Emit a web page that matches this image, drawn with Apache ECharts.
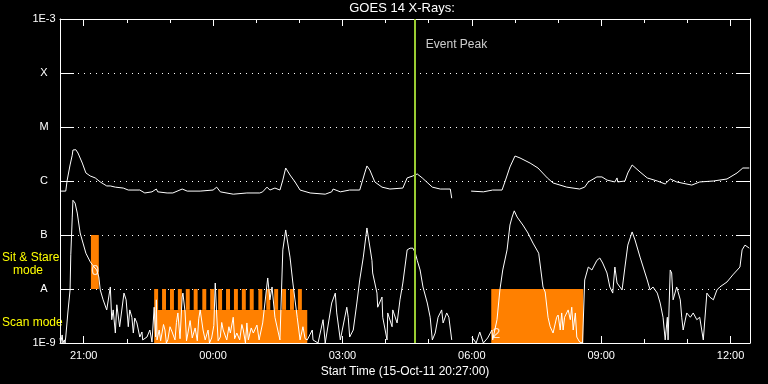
<!DOCTYPE html>
<html>
<head>
<meta charset="utf-8">
<script src="https://cdn.jsdelivr.net/npm/echarts@6/dist/echarts.min.js"></script>
<style>html,body{margin:0;padding:0;background:#000;}#c{width:768px;height:384px;}</style>
</head>
<body>
<div id="c"></div>
<script>
// time in minutes after start (15-Oct-11 20:27:00), flux in W/m^2
const majorTickMinutes = [33, 213, 393, 573, 753, 933];
const majorTickLabels = ['21:00', '00:00', '03:00', '06:00', '09:00', '12:00'];
const minorTickMinutes = [93, 153, 273, 333, 453, 513, 633, 693, 813, 873];
const levelLabels = {'-3': '1E-3', '-4': 'X', '-5': 'M', '-6': 'C', '-7': 'B', '-8': 'A', '-9': '1E-9'};
const eventPeakMinute = 493;

const longChannel = [
[0,6.5e-7],[8,6.5e-7],[10,1.04e-6],[14,1.98e-6],[17,3.0e-6],[18,3.75e-6],[22,3.8e-6],[25,3.3e-6],[31,2.15e-6],[36,1.41e-6],[42,1.24e-6],[49,1.14e-6],[56,9.6e-7],[65,8.1e-7],[70,8.1e-7],[72,8.8e-7],[77,7.7e-7],[88,7.4e-7],[95,6.8e-7],[111,6.8e-7],[118,6.0e-7],[128,6.3e-7],[134,7.1e-7],[136,6.3e-7],[149,6.0e-7],[157,6.0e-7],[170,7.1e-7],[177,6.5e-7],[195,6.5e-7],[213,6.8e-7],[218,7.7e-7],[223,6.3e-7],[241,5.7e-7],[260,6.0e-7],[278,6.0e-7],[282,6.3e-7],[288,7.7e-7],[292,6.8e-7],[299,7.4e-7],[306,6.8e-7],[310,1.04e-6],[314,1.74e-6],[320,1.29e-6],[327,9.6e-7],[334,6.8e-7],[348,6.0e-7],[369,5.7e-7],[378,6.3e-7],[380,7.1e-7],[390,6.3e-7],[403,6.8e-7],[417,6.8e-7],[424,1.41e-6],[427,1.9e-6],[431,1.6e-6],[438,9.6e-7],[448,7.7e-7],[459,7.1e-7],[477,7.4e-7],[483,1.14e-6],[491,1.24e-6],[497,1.35e-6],[504,1.14e-6],[518,7.7e-7],[529,7.1e-7],[543,7.1e-7],[545,4.8e-7],[558,null],
[572,6.5e-7],[589,6.3e-7],[602,6.8e-7],[615,6.8e-7],[619,9.6e-7],[626,1.82e-6],[633,2.9e-6],[640,2.67e-6],[654,2.15e-6],[665,1.74e-6],[678,1.14e-6],[686,9.2e-7],[705,7.7e-7],[723,7.1e-7],[730,7.7e-7],[735,9.6e-7],[747,1.19e-6],[754,1.19e-6],[761,1.04e-6],[772,9.6e-7],[775,1.14e-6],[776,9.6e-7],[786,1.0e-6],[790,1.41e-6],[796,1.98e-6],[807,1.47e-6],[817,1.14e-6],[831,1.0e-6],[842,8.8e-7],[849,1.09e-6],[858,9.6e-7],[879,8.4e-7],[890,9.6e-7],[909,1.0e-6],[928,1.09e-6],[942,1.41e-6],[950,1.74e-6],[959,1.74e-6]
];

const shortChannel = [
[0,1.24e-9],[1,1e-9],[3,1.41e-9],[4,1e-9],[6,1.14e-9],[7,1e-9],[8,1.29e-9],[11,3.75e-9],[14,9.6e-9],[15,4.3e-8],[17,2.07e-7],[18,4.4e-7],[21,3.9e-7],[24,2.55e-7],[28,1.09e-7],[32,7.1e-8],[36,4.6e-8],[42,3.2e-8],[46,2.7e-8],[51,2.25e-8],[54,1.67e-8],[56,9.6e-9],[60,6.3e-9],[65,4.1e-9],[70,1.09e-8],[72,2.7e-9],[74,4.1e-9],[77,1.53e-9],[79,5.1e-9],[83,2.0e-9],[89,8.4e-9],[92,6.3e-9],[95,2.0e-9],[97,4.1e-9],[100,3.0e-9],[102,1.53e-9],[104,2.9e-9],[107,2.35e-9],[111,1.29e-9],[114,1.6e-9],[115,1.14e-9],[121,1.29e-9],[125,1.74e-9],[128,1.04e-9],
[131,4.6e-9],[133,1.3e-9],[134,6.3e-9],[135,1.14e-9],[138,1.74e-9],[140,1.1e-9],[142,1.14e-9],[144,2.2e-9],[146,1.74e-9],[148,1.0e-9],[150,1.14e-9],[153,2.0e-9],[156,1.6e-9],[160,1.14e-9],[162,2.4e-9],[164,3.6e-9],[167,1.2e-9],[170,7.1e-9],[171,8.4e-9],[174,3.75e-9],[176,1.1e-9],[178,1.53e-9],[181,2.6e-9],[184,1.24e-9],[188,1.9e-9],[191,1.1e-9],[193,2.8e-9],[195,4.1e-9],[199,1.74e-9],[202,1.14e-9],[206,1.74e-9],[208,1.0e-9],[211,1.24e-9],[214,2.1e-9],[216,1.29e-8],[218,3.3e-9],[220,1.1e-9],[223,1.29e-9],[225,2.4e-9],[227,1.74e-9],[232,1.14e-9],[235,2.0e-9],[237,1.53e-9],[241,3.0e-9],[243,1.2e-9],[246,1.53e-9],[250,1.14e-9],[253,2.2e-9],[255,1.74e-9],[258,1.0e-9],[260,2.35e-9],[262,1.14e-9],[266,1.9e-9],[269,1.53e-9],[274,2.15e-9],[277,1.14e-9],[282,2.35e-9],[289,1.6e-8],[292,6.3e-9],[295,1.09e-8],[299,3.0e-9],[306,1.14e-9],[310,5.3e-8],[314,1.24e-7],[320,3.9e-8],[324,1.29e-8],[330,3.0e-9],[334,1.14e-9],[338,2.0e-9],[341,1.2e-9],[344,1.14e-9],[351,1.74e-9],[352,1.14e-9],[359,1.0e-9],[366,2.7e-9],[369,1.0e-9],[378,5.5e-9],[383,8.4e-9],[385,3.6e-9],[390,1.14e-9],[399,4.6e-9],[401,3.0e-9],[403,1.29e-9],[408,1.74e-9],[413,5.5e-9],[417,1.47e-8],[422,3.9e-8],[427,1.35e-7],[434,3.4e-8],[435,1.98e-8],[441,8.4e-9],[442,4.6e-9],[448,7.1e-9],[449,3.0e-9],[455,1.14e-9],[456,3.6e-9],[462,2.0e-9],[463,4.1e-9],[469,2.35e-9],[473,6.3e-9],[477,1.29e-8],[483,5.3e-8],[487,5.7e-8],[491,5.7e-8],[494,4.8e-8],[497,3.4e-8],[501,2.25e-8],[505,1.09e-8],[511,5.5e-9],[515,3.0e-9],[518,1.14e-9],[522,1.53e-9],[526,3.0e-9],[531,4.1e-9],[533,2.35e-9],[538,3.6e-9],[541,3.0e-9],[545,1.14e-9],[558,null],
[573,1.29e-9],[579,1e-9],[584,1.6e-9],[589,1e-9],[595,1.24e-9],[601,1.74e-9],[602,1.14e-9],[608,2.7e-9],[612,9.6e-9],[616,2.25e-8],[622,5.3e-8],[626,1.53e-7],[629,2.15e-7],[632,2.8e-7],[636,2.15e-7],[644,1.53e-7],[651,1.09e-7],[658,7.1e-8],[666,4.6e-8],[672,1.09e-8],[675,8.8e-9],[679,3.0e-9],[682,2.0e-9],[686,1.53e-9],[691,3.0e-9],[693,3.3e-9],[696,1.74e-9],[698,3.6e-9],[700,1.74e-9],[702,3.0e-9],[707,4.1e-9],[710,2.7e-9],[712,4.6e-9],[714,1.74e-9],[717,3.6e-9],[719,1.29e-9],[723,1.04e-9],[727,1.0e-9],[730,1.47e-8],[735,2.55e-8],[740,2.25e-8],[747,3.4e-8],[751,3.75e-8],[755,3.03e-8],[761,1.98e-8],[765,1.09e-8],[769,8.4e-9],[772,2.55e-8],[775,1.29e-8],[782,9.6e-9],[786,2.55e-8],[790,6.5e-8],[796,1.14e-7],[800,8.1e-8],[807,3.9e-8],[817,1.47e-8],[821,9.6e-9],[825,1.09e-8],[831,8.4e-9],[835,5.5e-9],[839,3.0e-9],[842,1.14e-9],[845,3.0e-9],[846,1.14e-9],[849,2.25e-8],[851,1.98e-8],[853,6.3e-9],[858,1.09e-8],[863,6.3e-9],[865,3.0e-9],[867,1.74e-9],[872,3.6e-9],[877,3.0e-9],[881,3.6e-9],[886,2.7e-9],[890,3.0e-9],[895,1.14e-9],[900,8.4e-9],[904,7.1e-9],[909,6.3e-9],[914,9.6e-9],[918,1.09e-8],[928,1.35e-8],[936,1.82e-8],[946,2.55e-8],[949,5.3e-8],[953,6.5e-8],[959,5.7e-8]
];

// observing mode blocks: [start, end, low flux, high flux]
const sitStareBlocks = [[43, 54, 1e-8, 1e-7]];
const scanSolidBlocks = [[131, 344, 1e-9, 4.1e-9], [600, 728, 1e-9, 1e-8]];
const scanTeeth = [[131,136.5],[142,147.5],[153,158.5],[164,169.5],[175,180.5],[186,191.5],[198,203.5],[209,214.5],[220,225.5],[231,236.5],[242,247.5],[253,258.5],[264,269.5],[276,281.5],[287,292.5],[298,303.5],[309,314.5],[320,325.5],[331,336.5]];
const scanTeethRange = [4.1e-9, 1e-8];
const tagPoints = [[49, 2.15e-8, '0'], [607, 1.47e-9, '2']];

const blocks = sitStareBlocks.concat(scanSolidBlocks, scanTeeth.map(t => [t[0], t[1], scanTeethRange[0], scanTeethRange[1]]));

const FONT = 'Liberation Sans';
const chart = echarts.init(document.getElementById('c'), null, {renderer: 'canvas'});

function xAxisDef(pos, ticks, len, showLine, showLabel) {
  return {
    type: 'value', min: 0, max: 960, position: pos,
    axisLine: {show: showLine, onZero: false, lineStyle: {color: '#fff', width: 1}},
    axisTick: {show: true, inside: true, length: len, customValues: ticks, lineStyle: {color: '#fff', width: 1}},
    axisLabel: {show: showLabel, customValues: majorTickMinutes, margin: 7, color: '#fff', fontFamily: FONT, fontSize: 11,
      formatter: v => majorTickLabels[majorTickMinutes.indexOf(v)] || ''},
    splitLine: {show: false}
  };
}

const xMain = xAxisDef('bottom', majorTickMinutes, 7, true, true);
xMain.name = 'Start Time (15-Oct-11 20:27:00)';
xMain.nameLocation = 'middle';
xMain.nameGap = 17;
xMain.nameTextStyle = {color: '#fff', fontFamily: FONT, fontSize: 12};

const option = {
  backgroundColor: '#000',
  animation: false,
  title: {text: 'GOES 14 X-Rays:', left: 402, textAlign: 'center', top: 2, padding: 0,
    textStyle: {color: '#fff', fontFamily: FONT, fontSize: 13, fontWeight: 'normal'}},
  grid: {left: 60, right: 18, top: 19, bottom: 41, containLabel: false},
  xAxis: [
    xMain,
    xAxisDef('bottom', minorTickMinutes, 4, false, false),
    xAxisDef('top', majorTickMinutes, 7, true, false),
    xAxisDef('top', minorTickMinutes, 4, false, false)
  ],
  yAxis: [
    {type: 'log', logBase: 10, min: 1e-9, max: 1e-3, position: 'left',
      axisLine: {show: true, onZero: false, lineStyle: {color: '#fff'}},
      axisTick: {show: true, inside: true, length: 14, lineStyle: {color: '#fff'}},
      axisLabel: {color: '#fff', fontFamily: FONT, fontSize: 11, align: 'center', margin: 16,
        formatter: v => levelLabels[String(Math.round(Math.log10(v)))] || ''},
      splitLine: {show: true, lineStyle: {color: '#fff', width: 1, type: [1, 5]}}},
    {type: 'log', logBase: 10, min: 1e-9, max: 1e-3, position: 'right',
      axisLine: {show: true, onZero: false, lineStyle: {color: '#fff'}},
      axisTick: {show: true, inside: true, length: 14, lineStyle: {color: '#fff'}},
      axisLabel: {show: false}, splitLine: {show: false}}
  ],
  graphic: [
    {type: 'text', left: 2, top: 252, style: {text: 'Sit & Stare', fill: '#ffff00', font: '12px ' + FONT}},
    {type: 'text', left: 13, top: 265, style: {text: 'mode', fill: '#ffff00', font: '12px ' + FONT}},
    {type: 'text', left: 2, top: 317, style: {text: 'Scan mode', fill: '#ffff00', font: '12px ' + FONT}}
  ],
  series: [
    {type: 'custom', name: 'modes', z: 1, clip: true,
      encode: {x: [0, 1], y: [2, 3]},
      data: blocks,
      renderItem: function (params, api) {
        const p0 = api.coord([api.value(0), api.value(3)]);
        const p1 = api.coord([api.value(1), api.value(2)]);
        return {type: 'rect', shape: {x: p0[0], y: p0[1], width: p1[0] - p0[0], height: p1[1] - p0[1]},
          style: {fill: '#ff8000'}};
      }},
    {type: 'line', name: 'long', z: 3, data: longChannel, showSymbol: false, connectNulls: false, clip: true,
      lineStyle: {color: '#fff', width: 1}},
    {type: 'line', name: 'short', z: 3, data: shortChannel, showSymbol: false, connectNulls: false, clip: true,
      lineStyle: {color: '#fff', width: 1}},
    {type: 'scatter', name: 'tags', z: 4, symbolSize: 1, itemStyle: {color: 'rgba(0,0,0,0)'},
      data: tagPoints,
      label: {show: true, position: 'inside', formatter: p => p.value[2], color: '#fff', fontFamily: FONT, fontSize: 14}},
    {type: 'scatter', name: 'event', z: 5, symbolSize: 1, itemStyle: {color: 'rgba(0,0,0,0)'},
      data: [[eventPeakMinute, 3.3e-4]],
      label: {show: true, position: 'right', distance: 11, formatter: 'Event Peak', color: '#fff', fontFamily: FONT, fontSize: 12},
      markLine: {silent: true, symbol: ['none', 'none'], label: {show: false},
        lineStyle: {color: '#9acd32', width: 2, type: 'solid'},
        data: [{xAxis: eventPeakMinute}]}}
  ]
};
chart.setOption(option);
</script>
</body>
</html>
